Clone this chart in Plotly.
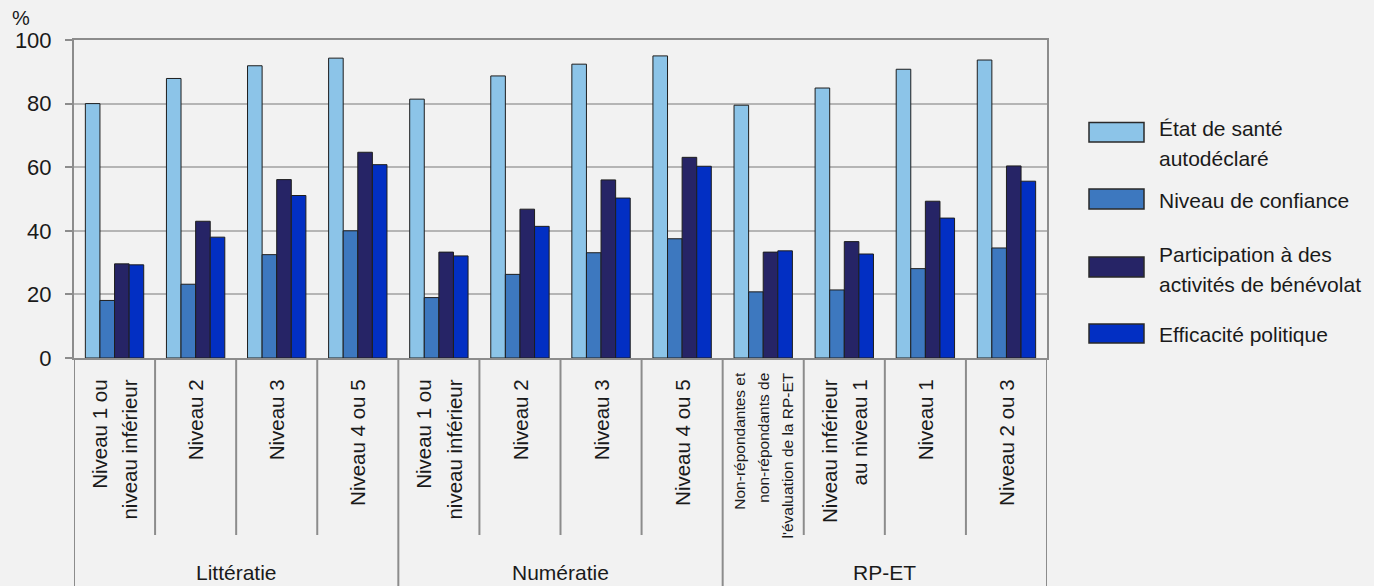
import plotly.graph_objects as go

# ---------------- data ----------------
categories = [
    "Niveau 1 ou|niveau inférieur", "Niveau 2", "Niveau 3", "Niveau 4 ou 5",
    "Niveau 1 ou|niveau inférieur", "Niveau 2", "Niveau 3", "Niveau 4 ou 5",
    "Non-répondantes et|non-répondants de|l'évaluation de la RP-ET",
    "Niveau inférieur|au niveau 1", "Niveau 1", "Niveau 2 ou 3",
]
small_label_index = 8
groups = ["Littératie", "Numératie", "RP-ET"]
group_sizes = [4, 4, 4]

series_names = ["État de santé|autodéclaré", "Niveau de confiance",
                "Participation à des|activités de bénévolat", "Efficacité politique"]
sante = [80.0, 87.9, 91.9, 94.3, 81.4, 88.7, 92.4, 95.0, 79.5, 84.9, 90.8, 93.7]
confiance = [18.1, 23.2, 32.5, 40.0, 19.0, 26.3, 33.1, 37.5, 20.8, 21.4, 28.1, 34.6]
benevolat = [29.6, 43.0, 56.1, 64.7, 33.3, 46.8, 56.0, 63.1, 33.3, 36.6, 49.3, 60.4]
politique = [29.3, 38.0, 51.1, 60.8, 32.1, 41.4, 50.3, 60.3, 33.7, 32.7, 44.0, 55.6]
series_values = [sante, confiance, benevolat, politique]
y_ticks = [0, 20, 40, 60, 80, 100]
y_unit = "%"

# ---------------- style ----------------
colors = ["#8cc4e8", "#3d78bf", "#262466", "#022fc3"]
FONT = "Liberation Sans, Arial, sans-serif"
BG = "#f2f2f2"
AXIS = "#8c8c8c"
GRID = "#b5b5b5"
TXT = "#1a1a1a"

W, H = 1374, 586
L, R, T, B = 74, 327, 40, 228
plot_h = H - T - B
plot_w = W - L - R


def py(pix):
    return (H - B - pix) / plot_h


def px(pix):
    return (pix - L) / plot_w


def span_lines(text, size):
    return "<br>".join(f"<span style='font-size:{size}px'>{p}</span>" for p in text.split("|"))


xs = list(range(len(categories)))

fig = go.Figure()
for name, vals, col in zip(series_names, series_values, colors):
    fig.add_trace(go.Bar(
        x=xs, y=vals, name=name.replace("|", " "),
        marker=dict(color=col, line=dict(color="#1e1e1e", width=1)),
        showlegend=False, hoverinfo="y+name",
    ))
# invisible anchor trace so the overlay axis carrying the small label is drawn
fig.add_trace(go.Scatter(x=[small_label_index], y=[0], xaxis="x2", yaxis="y", mode="markers",
                         marker=dict(opacity=0), showlegend=False, hoverinfo="skip"))

main_text = [span_lines(c, 20.5) if i != small_label_index else "" for i, c in enumerate(categories)]
small_text = [span_lines(categories[small_label_index], 15.5)]

# dividers
shapes = []
start = 0
bounds = []
for gs in group_sizes:
    bounds.append(start - 0.5)
    for k in range(1, gs):
        shapes.append(dict(type="line", xref="x", yref="paper", x0=start + k - 0.5, x1=start + k - 0.5,
                           y0=0, y1=py(535), line=dict(color=AXIS, width=2)))
    start += gs
bounds.append(start - 0.5)
for b in bounds:
    shapes.append(dict(type="line", xref="x", yref="paper", x0=b, x1=b, y0=0, y1=py(590),
                       line=dict(color=AXIS, width=2)))

annotations = []
start = 0
for g, gs in zip(groups, group_sizes):
    annotations.append(dict(text=g, xref="x", yref="paper", x=start + (gs - 1) / 2, y=py(572),
                            showarrow=False, xanchor="center", yanchor="middle",
                            font=dict(family=FONT, size=21, color=TXT)))
    start += gs

annotations.append(dict(text=y_unit, xref="paper", yref="paper", x=px(10), y=py(18), showarrow=False,
                        xanchor="left", yanchor="middle", font=dict(family=FONT, size=20, color=TXT)))

# custom legend
sw_y = [(122.5, 142), (189, 209), (257, 277), (324, 343)]
txt_y = [143, 200, 269.5, 334]
for (y0, y1), ty, name, col in zip(sw_y, txt_y, series_names, colors):
    shapes.append(dict(type="rect", xref="paper", yref="paper", x0=px(1089), x1=px(1144),
                       y0=py(y1), y1=py(y0), fillcolor=col, line=dict(color="#2a2a2a", width=1.5)))
    annotations.append(dict(text=span_lines(name, 21), xref="paper", yref="paper", x=px(1157), y=py(ty),
                            showarrow=False, xanchor="left", yanchor="middle", align="left",
                            font=dict(family=FONT, size=23, color=TXT)))

fig.update_layout(
    template="none",
    width=W, height=H,
    margin=dict(l=L, r=R, t=T, b=B, pad=0),
    paper_bgcolor=BG, plot_bgcolor=BG,
    barmode="group", bargap=0.28, bargroupgap=0,
    font=dict(family=FONT, color=TXT),
    showlegend=False,
    shapes=shapes, annotations=annotations,
    xaxis=dict(range=[-0.5, len(categories) - 0.5], tickvals=xs, ticktext=main_text, tickangle=-90,
               tickfont=dict(family=FONT, size=23.5, color=TXT), ticks="", showgrid=False, zeroline=False,
               showline=True, linecolor=AXIS, linewidth=2, mirror=True, automargin=False,
               ticklabelstandoff=10, fixedrange=True),
    xaxis2=dict(overlaying="x", anchor="y", side="bottom", range=[-0.5, len(categories) - 0.5],
                tickvals=[small_label_index], ticktext=small_text, tickangle=-90,
                tickfont=dict(family=FONT, size=18.5, color=TXT), ticks="", showgrid=False,
                zeroline=False, showline=False, automargin=False, ticklabelstandoff=10, fixedrange=True),
    yaxis=dict(range=[0, 100], tickvals=y_ticks, ticks="outside", ticklen=7, tickwidth=2, tickcolor=AXIS,
               tickfont=dict(family=FONT, size=22, color=TXT), showgrid=True, gridcolor=GRID, gridwidth=1.5,
               zeroline=False, showline=True, linecolor=AXIS, linewidth=2, mirror=True, automargin=False,
               ticklabelstandoff=9, fixedrange=True),
)

fig.write_html("out.html", config={"displayModeBar": False},
               post_script="document.body.style.margin='0';document.body.style.padding='0';"
                           "document.documentElement.style.margin='0';")
